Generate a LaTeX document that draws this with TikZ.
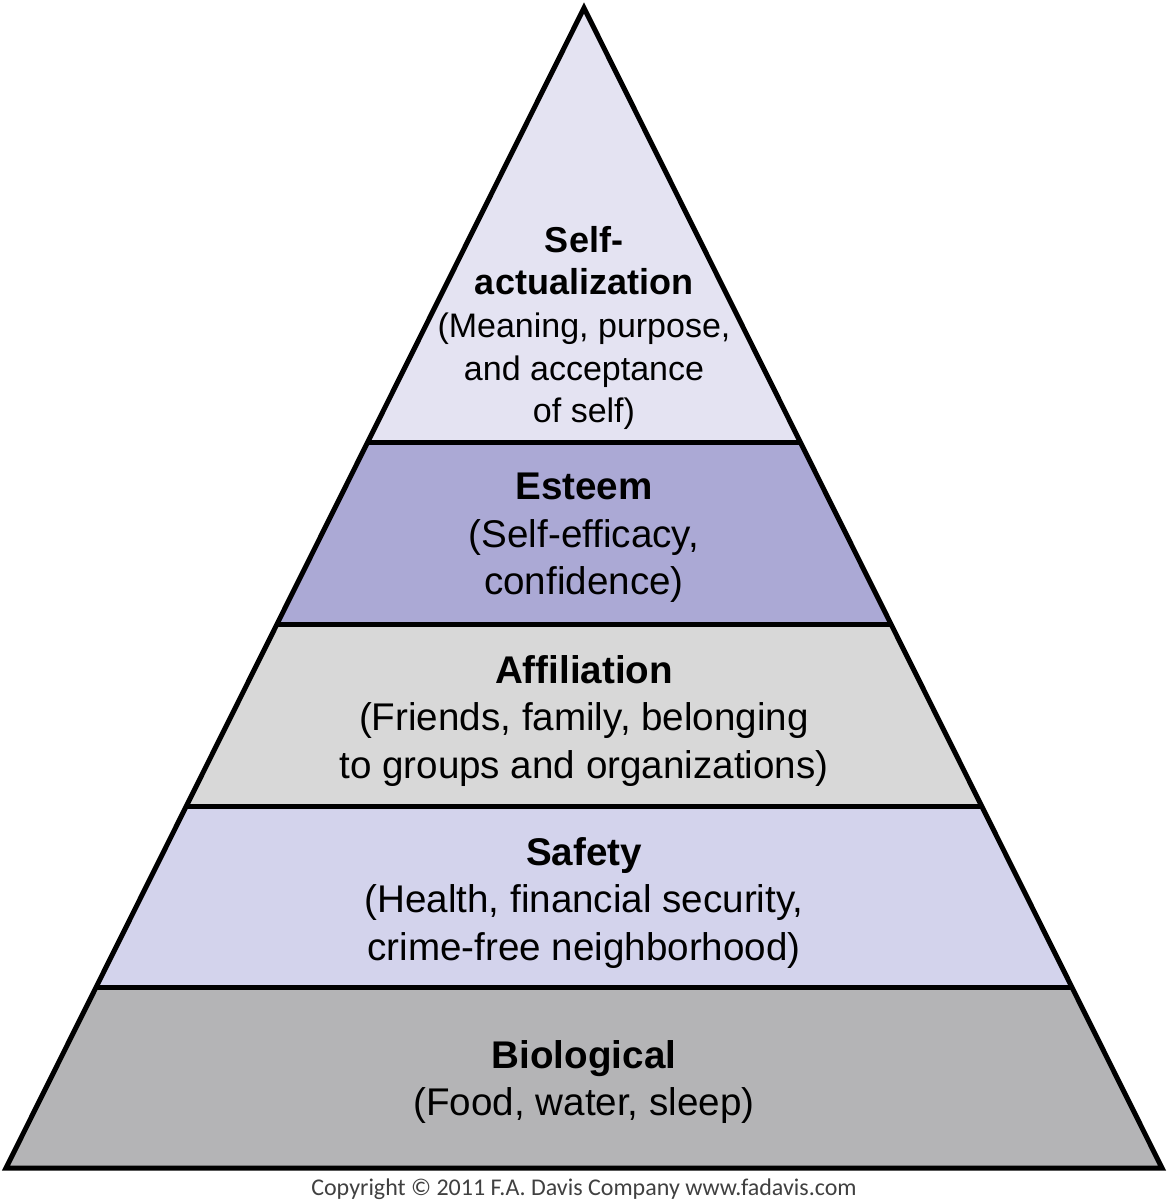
\documentclass[tikz,border=0pt]{standalone}
\usepackage{fontspec}
\setmainfont{Liberation Sans}
\newfontfamily\copyfont{Carlito}
\begin{document}
\begin{tikzpicture}[x=0.5pt,y=-0.5pt,
  lbl/.style={align=center,font=\fontsize{19.3}{23.8}\selectfont,inner sep=0pt},
  lbltop/.style={align=center,font=\fontsize{17}{21.3}\selectfont,inner sep=0pt}]
\useasboundingbox (0,0) rectangle (1168,1200);
\definecolor{cA}{HTML}{E4E3F2}
\definecolor{cB}{HTML}{ABA9D5}
\definecolor{cC}{HTML}{D8D8D8}
\definecolor{cD}{HTML}{D3D3EC}
\definecolor{cE}{HTML}{B4B4B6}
\coordinate (apex) at (584,8);
\coordinate (bl) at (6,1168);
\coordinate (br) at (1162,1168);
\begin{scope}
\clip (apex) -- (br) -- (bl) -- cycle;
\fill[cA] (0,0) rectangle (1168,442);
\fill[cB] (0,442) rectangle (1168,624);
\fill[cC] (0,624) rectangle (1168,806);
\fill[cD] (0,806) rectangle (1168,987);
\fill[cE] (0,987) rectangle (1168,1170);
\draw[line width=2.5pt] (0,442) -- (1168,442) (0,624) -- (1168,624)
  (0,806) -- (1168,806) (0,987) -- (1168,987);
\end{scope}
\draw[line width=2.5pt,line join=miter] (apex) -- (br) -- (bl) -- cycle;
\node[lbltop] (t1) at (584,328) {\fontsize{18}{22.5}\selectfont\textbf{Self-}\\\fontsize{18}{22.5}\selectfont\textbf{actualization}\\(Meaning, purpose,\\and acceptance\\of self)};
\node[lbl] (t2) at (584,538) {\textbf{Esteem}\\(Self-efficacy,\\confidence)};
\node[lbl] (t3) at (584,721) {\textbf{Affiliation}\\(Friends, family, belonging\\to groups and organizations)};
\node[lbl] (t4) at (584,903) {\textbf{Safety}\\(Health, financial security,\\crime-free neighborhood)};
\node[lbl] (t5) at (584,1082) {\textbf{Biological}\\(Food, water, sleep)};
\node[font=\copyfont\fontsize{12}{14}\selectfont,text=black!75,inner sep=0pt] (cp) at (584,1189) {Copyright © 2011 F.A. Davis Company www.fadavis.com};
\end{tikzpicture}
\end{document}
